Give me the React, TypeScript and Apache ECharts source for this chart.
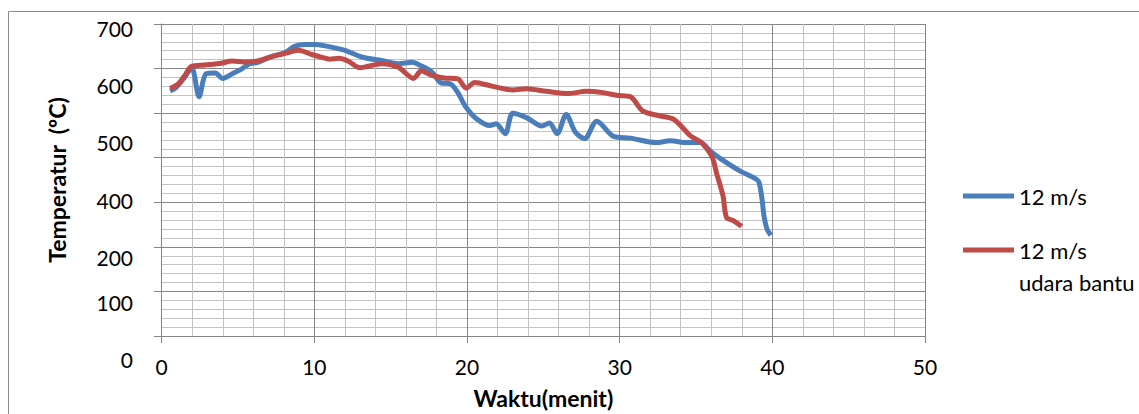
import React, { useEffect, useRef } from "react";
import * as echarts from "echarts";

const seriesNames = ["12 m/s", "12 m/s udara bantu"];
const legendTexts = ["12 m/s", "\n12 m/s\nudara bantu"];

const timeBlue = [0.55, 0.9, 1.5, 1.96, 2.45, 2.9, 3.5, 4.0, 4.6, 5.2, 5.7, 6.3, 7.2, 8.1, 8.7, 9.4, 10.0, 10.7, 12.0, 13.1, 14.4, 15.5, 16.4, 17.0, 17.7, 18.3, 18.9, 19.4, 19.9, 20.6, 21.5, 21.9, 22.5, 23.0, 23.9, 24.9, 25.4, 25.9, 26.5, 27.1, 27.7, 28.5, 29.6, 30.7, 32.4, 33.3, 34.4, 35.3, 35.9, 36.6, 37.9, 38.85, 39.1, 39.3, 39.45, 39.65, 39.9];
const tempBlue = [550, 556, 580, 602, 537, 588, 590, 578, 588, 598, 610, 614, 627, 636, 650, 654, 654, 651, 641, 626, 618, 611, 614, 606, 592, 568, 566, 546, 515, 488, 472, 476, 454, 500, 490, 471, 478, 454, 497, 457, 443, 482, 448, 444, 434, 438, 434, 434, 416, 398, 370, 354, 347, 314, 270, 240, 226];

const timeRed = [0.55, 1.1, 1.5, 1.96, 2.8, 3.9, 4.6, 5.4, 6.3, 7.2, 8.1, 8.95, 9.8, 10.5, 11.0, 11.6, 12.2, 13.0, 14.4, 15.5, 16.5, 17.0, 17.6, 18.5, 19.4, 19.95, 20.5, 21.7, 23.0, 23.9, 25.2, 26.7, 27.8, 28.9, 29.8, 30.7, 31.5, 32.6, 33.5, 34.0, 34.6, 35.35, 35.8, 36.1, 36.35, 36.77, 37.0, 37.45, 37.99];
const tempRed = [555, 566, 584, 605, 608, 612, 617, 615, 617, 627, 634, 641, 632, 625, 621, 623, 617, 602, 611, 603, 578, 595, 586, 579, 577, 556, 569, 560, 552, 555, 549, 544, 549, 546, 540, 537, 505, 494, 487, 472, 450, 434, 416, 398, 365, 314, 266, 259, 246];

const yTickLabels = ["700", "600", "500", "400", "200", "100", "0"];
const yTickLabelPos = [28, 85, 142.5, 200.5, 257.5, 302.5, 359.5];

const xAxisTitle = "Waktu(menit)";
const yAxisTitle = "Temperatur  (ºC)";

const FONT = "Lato";
const MAJOR = "#868686";
const MINOR = "#c3c3c3";

export default function App() {
  const ref = useRef<HTMLDivElement>(null);
  useEffect(() => {
    const chart = echarts.init(ref.current!, null, { renderer: "svg" });
    const blue = timeBlue.map((t, i) => [t, tempBlue[i]]);
    const red = timeRed.map((t, i) => [t, tempRed[i]]);
    chart.setOption({
      animation: false,
      backgroundColor: "#ffffff",
      grid: { left: 161.7, right: 214, top: 24, bottom: 71, containLabel: false },
      xAxis: {
        type: "value",
        min: 0,
        max: 50,
        interval: 10,
        name: xAxisTitle,
        nameLocation: "middle",
        nameGap: 50,
        nameTextStyle: { fontFamily: FONT, fontWeight: "bold", fontSize: 23, color: "#000" },
        axisLine: { show: true, onZero: false, lineStyle: { color: MAJOR, width: 1 } },
        axisTick: { show: true, length: 7, lineStyle: { color: MAJOR } },
        axisLabel: { fontFamily: FONT, fontSize: 21, color: "#000", margin: 20 },
        splitLine: { show: true, lineStyle: { color: MAJOR, width: 1 } },
        minorTick: { show: false, splitNumber: 5 },
        minorSplitLine: { show: true, lineStyle: { color: MINOR, width: 1 } },
      },
      yAxis: {
        type: "value",
        min: 0,
        max: 700,
        interval: 100,
        name: yAxisTitle,
        nameLocation: "middle",
        nameRotate: 90,
        nameGap: 93,
        nameTextStyle: { fontFamily: FONT, fontWeight: "bold", fontSize: 23, color: "#000" },
        axisLine: { show: true, lineStyle: { color: MAJOR, width: 1 } },
        axisTick: { show: true, length: 8, lineStyle: { color: MAJOR } },
        axisLabel: { show: false },
        splitLine: { show: true, lineStyle: { color: MAJOR, width: 1 } },
        minorTick: { show: false, splitNumber: 5 },
        minorSplitLine: { show: true, lineStyle: { color: MINOR, width: 1 } },
      },
      legend: {
        orient: "vertical",
        left: 958,
        top: 175,
        itemWidth: 51,
        itemHeight: 5,
        itemGap: -10,
        icon: "rect",
        data: seriesNames,
        formatter: (name: string) => legendTexts[seriesNames.indexOf(name)],
        textStyle: { fontFamily: FONT, fontSize: 22, color: "#000", lineHeight: 32 },
      },
      graphic: [
        {
          type: "rect",
          silent: true,
          shape: { x: 8.5, y: 11.5, width: 1200, height: 500 },
          style: { fill: "none", stroke: "#8c8c8c", lineWidth: 1 },
          z: -10,
        },
        ...yTickLabels.map((t, i) => ({
          type: "text",
          silent: true,
          x: 133,
          y: yTickLabelPos[i],
          style: {
            text: t,
            fontFamily: FONT,
            fontSize: 21,
            fill: "#000",
            textAlign: "right",
            textVerticalAlign: "middle",
          },
        })),
      ],
      series: [
        {
          name: seriesNames[0],
          type: "line",
          data: blue,
          smooth: 0.3,
          showSymbol: false,
          color: "#4a7ebb",
          lineStyle: { color: "#4a7ebb", width: 5 },
        },
        {
          name: seriesNames[1],
          type: "line",
          data: red,
          smooth: 0.3,
          showSymbol: false,
          color: "#be4b48",
          lineStyle: { color: "#be4b48", width: 5 },
        },
      ],
    });
    return () => chart.dispose();
  }, []);
  return (
    <div
      ref={ref}
      style={{ position: "fixed", left: 0, top: 0, width: 1139, height: 414 }}
    />
  );
}
